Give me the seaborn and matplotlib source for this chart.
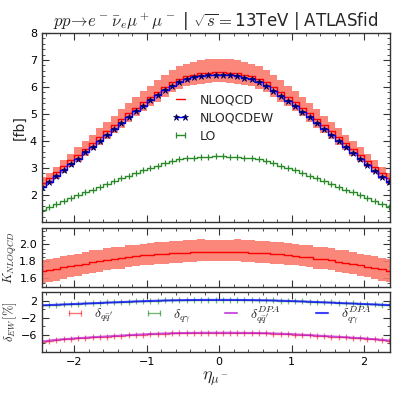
import numpy as np
import seaborn as sns
import matplotlib
matplotlib.use("Agg")
import matplotlib.pyplot as plt
from matplotlib.ticker import MultipleLocator

# ---------------- data ----------------
eta = [-2.45, -2.35, -2.25, -2.15, -2.05, -1.95, -1.85, -1.75, -1.65, -1.55,
       -1.45, -1.35, -1.25, -1.15, -1.05, -0.95, -0.85, -0.75, -0.65, -0.55,
       -0.45, -0.35, -0.25, -0.15, -0.05, 0.05, 0.15, 0.25, 0.35, 0.45,
       0.55, 0.65, 0.75, 0.85, 0.95, 1.05, 1.15, 1.25, 1.35, 1.45,
       1.55, 1.65, 1.75, 1.85, 1.95, 2.05, 2.15, 2.25, 2.35, 2.45]

nlo = [2.46, 2.63, 2.84, 3.06, 3.28, 3.50, 3.72, 3.94, 4.16, 4.38,
       4.59, 4.81, 5.03, 5.24, 5.44, 5.63, 5.82, 6.01, 6.17, 6.30,
       6.39, 6.45, 6.50, 6.53, 6.55, 6.55, 6.53, 6.50, 6.45, 6.39,
       6.30, 6.17, 6.00, 5.81, 5.62, 5.43, 5.23, 5.03, 4.80, 4.58,
       4.37, 4.15, 3.93, 3.72, 3.49, 3.27, 3.05, 2.83, 2.62, 2.45]

nlo_up = [2.65, 2.83, 3.05, 3.29, 3.53, 3.76, 4.01, 4.24, 4.47, 4.71,
          4.93, 5.17, 5.41, 5.63, 5.84, 6.04, 6.25, 6.45, 6.63, 6.77,
          6.87, 6.93, 6.99, 7.02, 7.04, 7.04, 7.02, 6.99, 6.93, 6.87,
          6.77, 6.63, 6.45, 6.25, 6.04, 5.84, 5.63, 5.41, 5.17, 4.93,
          4.71, 4.47, 4.24, 4.01, 3.76, 3.53, 3.29, 3.05, 2.83, 2.65]

nlo_down = [2.25, 2.41, 2.61, 2.82, 3.03, 3.24, 3.46, 3.66, 3.87, 4.08,
            4.28, 4.49, 4.71, 4.91, 5.10, 5.28, 5.46, 5.64, 5.81, 5.93,
            6.02, 6.07, 6.12, 6.15, 6.17, 6.17, 6.15, 6.12, 6.07, 6.02,
            5.93, 5.81, 5.64, 5.46, 5.28, 5.10, 4.91, 4.71, 4.49, 4.28,
            4.08, 3.87, 3.66, 3.46, 3.24, 3.03, 2.82, 2.61, 2.41, 2.25]

nloew = [2.31, 2.48, 2.69, 2.91, 3.13, 3.35, 3.58, 3.79, 4.01, 4.23,
         4.44, 4.67, 4.90, 5.10, 5.30, 5.50, 5.69, 5.88, 6.05, 6.19,
         6.29, 6.36, 6.41, 6.44, 6.46, 6.46, 6.44, 6.40, 6.35, 6.28,
         6.18, 6.04, 5.87, 5.68, 5.49, 5.29, 5.09, 4.89, 4.66, 4.43,
         4.22, 4.00, 3.78, 3.57, 3.34, 3.12, 2.90, 2.68, 2.47, 2.30]

lo = [1.46, 1.55, 1.66, 1.77, 1.88, 1.99, 2.10, 2.20, 2.31, 2.41,
      2.51, 2.62, 2.72, 2.82, 2.91, 3.00, 3.09, 3.18, 3.26, 3.32,
      3.36, 3.38, 3.40, 3.42, 3.43, 3.43, 3.42, 3.40, 3.38, 3.36,
      3.32, 3.26, 3.18, 3.09, 3.00, 2.91, 2.82, 2.72, 2.62, 2.51,
      2.41, 2.31, 2.20, 2.10, 1.99, 1.88, 1.77, 1.66, 1.55, 1.46]

d_qq = [-7.60, -7.38, -7.20, -7.05, -6.92, -6.80, -6.70, -6.60, -6.50, -6.40,
        -6.30, -6.20, -6.10, -6.01, -5.92, -5.84, -5.77, -5.71, -5.66, -5.62,
        -5.59, -5.57, -5.56, -5.55, -5.55, -5.55, -5.55, -5.56, -5.57, -5.59,
        -5.62, -5.66, -5.71, -5.77, -5.84, -5.92, -6.01, -6.10, -6.20, -6.30,
        -6.40, -6.50, -6.60, -6.70, -6.80, -6.92, -7.05, -7.20, -7.38, -7.60]

d_qq_dpa = [-7.57, -7.35, -7.17, -7.02, -6.89, -6.77, -6.67, -6.57, -6.47, -6.37,
            -6.27, -6.17, -6.07, -5.98, -5.89, -5.81, -5.74, -5.68, -5.63, -5.59,
            -5.56, -5.54, -5.53, -5.52, -5.52, -5.52, -5.52, -5.53, -5.54, -5.56,
            -5.59, -5.63, -5.68, -5.74, -5.81, -5.89, -5.98, -6.07, -6.17, -6.27,
            -6.37, -6.47, -6.57, -6.67, -6.77, -6.89, -7.02, -7.17, -7.35, -7.57]

d_qa = [0.93, 1.00, 1.07, 1.14, 1.21, 1.28, 1.35, 1.42, 1.49, 1.56,
        1.63, 1.70, 1.77, 1.84, 1.90, 1.96, 2.01, 2.06, 2.10, 2.13,
        2.16, 2.18, 2.19, 2.20, 2.20, 2.20, 2.20, 2.19, 2.18, 2.16,
        2.13, 2.10, 2.06, 2.01, 1.96, 1.90, 1.84, 1.77, 1.70, 1.63,
        1.56, 1.49, 1.42, 1.35, 1.28, 1.21, 1.14, 1.07, 1.00, 0.93]

d_qa_dpa = [0.88, 0.95, 1.02, 1.09, 1.16, 1.23, 1.30, 1.37, 1.44, 1.51,
            1.58, 1.65, 1.72, 1.79, 1.85, 1.91, 1.96, 2.01, 2.05, 2.08,
            2.11, 2.13, 2.14, 2.15, 2.15, 2.15, 2.15, 2.14, 2.13, 2.11,
            2.08, 2.05, 2.01, 1.96, 1.91, 1.85, 1.79, 1.72, 1.65, 1.58,
            1.51, 1.44, 1.37, 1.30, 1.23, 1.16, 1.09, 1.02, 0.95, 0.88]

# K factor = NLO / LO
k_fac = np.array(nlo) / np.array(lo)
k_up = np.array(nlo_up) / np.array(lo)
k_down = np.array(nlo_down) / np.array(lo)

# ---------------- style ----------------
sns.set_style("ticks")
plt.rcParams.update({
    "font.family": ["DejaVu Sans"],
    "mathtext.fontset": "cm",
    "xtick.direction": "in", "ytick.direction": "in",
    "xtick.top": True, "ytick.right": True,
    "xtick.major.size": 5, "ytick.major.size": 5,
    "xtick.minor.size": 2.5, "ytick.minor.size": 2.5,
    "xtick.minor.visible": True, "ytick.minor.visible": True,
    "axes.edgecolor": "#333333", "axes.linewidth": 1.0,
    "xtick.color": "#333333", "ytick.color": "#333333",
    "xtick.labelcolor": "black", "ytick.labelcolor": "black",
    "xtick.labelsize": 8, "ytick.labelsize": 8,
})

band_col = "#fa7a6c"
fig = plt.figure(figsize=(3.99, 3.99), dpi=100)
ax1 = fig.add_axes([0.105, 0.4436, 0.8722, 0.4737])
ax2 = fig.add_axes([0.105, 0.2807, 0.8722, 0.1479])
ax3 = fig.add_axes([0.105, 0.1178, 0.8722, 0.1504])

# ---- main panel ----
ax1.fill_between(eta, nlo_down, nlo_up, step="mid", color=band_col, lw=0, alpha=0.9)
sns.lineplot(x=eta, y=nlo, ax=ax1, drawstyle="steps-mid", color="red", lw=1.0,
             label="NLOQCD", legend=False)
sns.lineplot(x=eta, y=nloew, ax=ax1, drawstyle="steps-mid", color="blue", lw=1.0,
             marker="*", markersize=4.5, mfc="#000066", mec="#000066", mew=0.5,
             label="NLOQCDEW", legend=False)
sns.lineplot(x=eta, y=lo, ax=ax1, drawstyle="steps-mid", color="#2a8a2a", lw=1.0,
             marker="|", markersize=5, mec="#2a8a2a", mew=0.9,
             label="LO", legend=False)
ax1.set_xlim(-2.45, 2.36)
ax1.set_ylim(1, 8)
ax1.set_yticks([2, 3, 4, 5, 6, 7, 8])
ax1.yaxis.set_minor_locator(MultipleLocator(0.2))
ax1.xaxis.set_major_locator(MultipleLocator(1))
ax1.xaxis.set_minor_locator(MultipleLocator(0.2))
ax1.tick_params(labelbottom=False)
ax1.set_ylabel("[fb]", fontsize=10)
ax1.yaxis.set_label_coords(-0.045, 0.5)
ax1.set_title(r"$pp\!\to\! e^-\bar{\nu}_e\mu^+\mu^-$ | $\sqrt{s}=$13TeV | ATLASfid",
              fontsize=12, pad=2)
ax1.legend(loc="center left", bbox_to_anchor=(0.376, 0.55), frameon=False,
           fontsize=9, numpoints=2, handlelength=1.3, handletextpad=0.9,
           labelspacing=0.4, borderpad=0, borderaxespad=0)

# ---- K factor panel ----
ax2.fill_between(eta, k_down, k_up, step="mid", color=band_col, lw=0, alpha=0.9)
sns.lineplot(x=eta, y=k_fac, ax=ax2, drawstyle="steps-mid", color="red", lw=1.0)
ax2.set_xlim(-2.45, 2.36)
ax2.set_ylim(1.5, 2.19)
ax2.set_yticks([1.6, 1.8, 2.0])
ax2.yaxis.set_minor_locator(MultipleLocator(0.05))
ax2.xaxis.set_major_locator(MultipleLocator(1))
ax2.xaxis.set_minor_locator(MultipleLocator(0.2))
ax2.tick_params(labelbottom=False)
ax2.set_ylabel(r"$K_{NLOQCD}$", fontsize=9)
ax2.yaxis.set_label_coords(-0.065, 0.5)

# ---- EW corrections panel ----
sns.lineplot(x=eta, y=d_qq, ax=ax3, drawstyle="steps-mid", color="red", lw=1.0,
             alpha=0.55, marker="|", markersize=5, mec="red", mew=0.9,
             label=r"$\delta_{q\bar{q}'}$", legend=False)
sns.lineplot(x=eta, y=d_qa, ax=ax3, drawstyle="steps-mid", color="green", lw=1.0,
             alpha=0.55, marker="|", markersize=5, mec="green", mew=0.9,
             label=r"$\delta_{q\gamma}$", legend=False)
sns.lineplot(x=eta, y=d_qq_dpa, ax=ax3, color="#b000d0", lw=1.5, alpha=0.65,
             label=r"$\delta_{q\bar{q}'}^{DPA}$", legend=False)
sns.lineplot(x=eta, y=d_qa_dpa, ax=ax3, color="blue", lw=1.5, alpha=0.75,
             label=r"$\delta_{q\gamma}^{DPA}$", legend=False)
ax3.set_xlim(-2.45, 2.36)
ax3.set_ylim(-10, 4)
ax3.set_yticks([2, -2, -6])
ax3.yaxis.set_minor_locator(MultipleLocator(2))
ax3.xaxis.set_major_locator(MultipleLocator(1))
ax3.xaxis.set_minor_locator(MultipleLocator(0.2))
ax3.set_ylabel(r"$\delta_{EW}\,[\%]$", fontsize=9)
ax3.yaxis.set_label_coords(-0.065, 0.5)
ax3.set_xlabel(r"$\eta_{\mu^-}$", fontsize=13, labelpad=2)
ax3.legend(loc="center left", bbox_to_anchor=(0.066, 0.617), frameon=False,
           ncol=4, fontsize=10, numpoints=2, handlelength=1.45,
           handletextpad=0.65, columnspacing=2.2, borderpad=0, borderaxespad=0)

fig.savefig("out.png", dpi=100)
